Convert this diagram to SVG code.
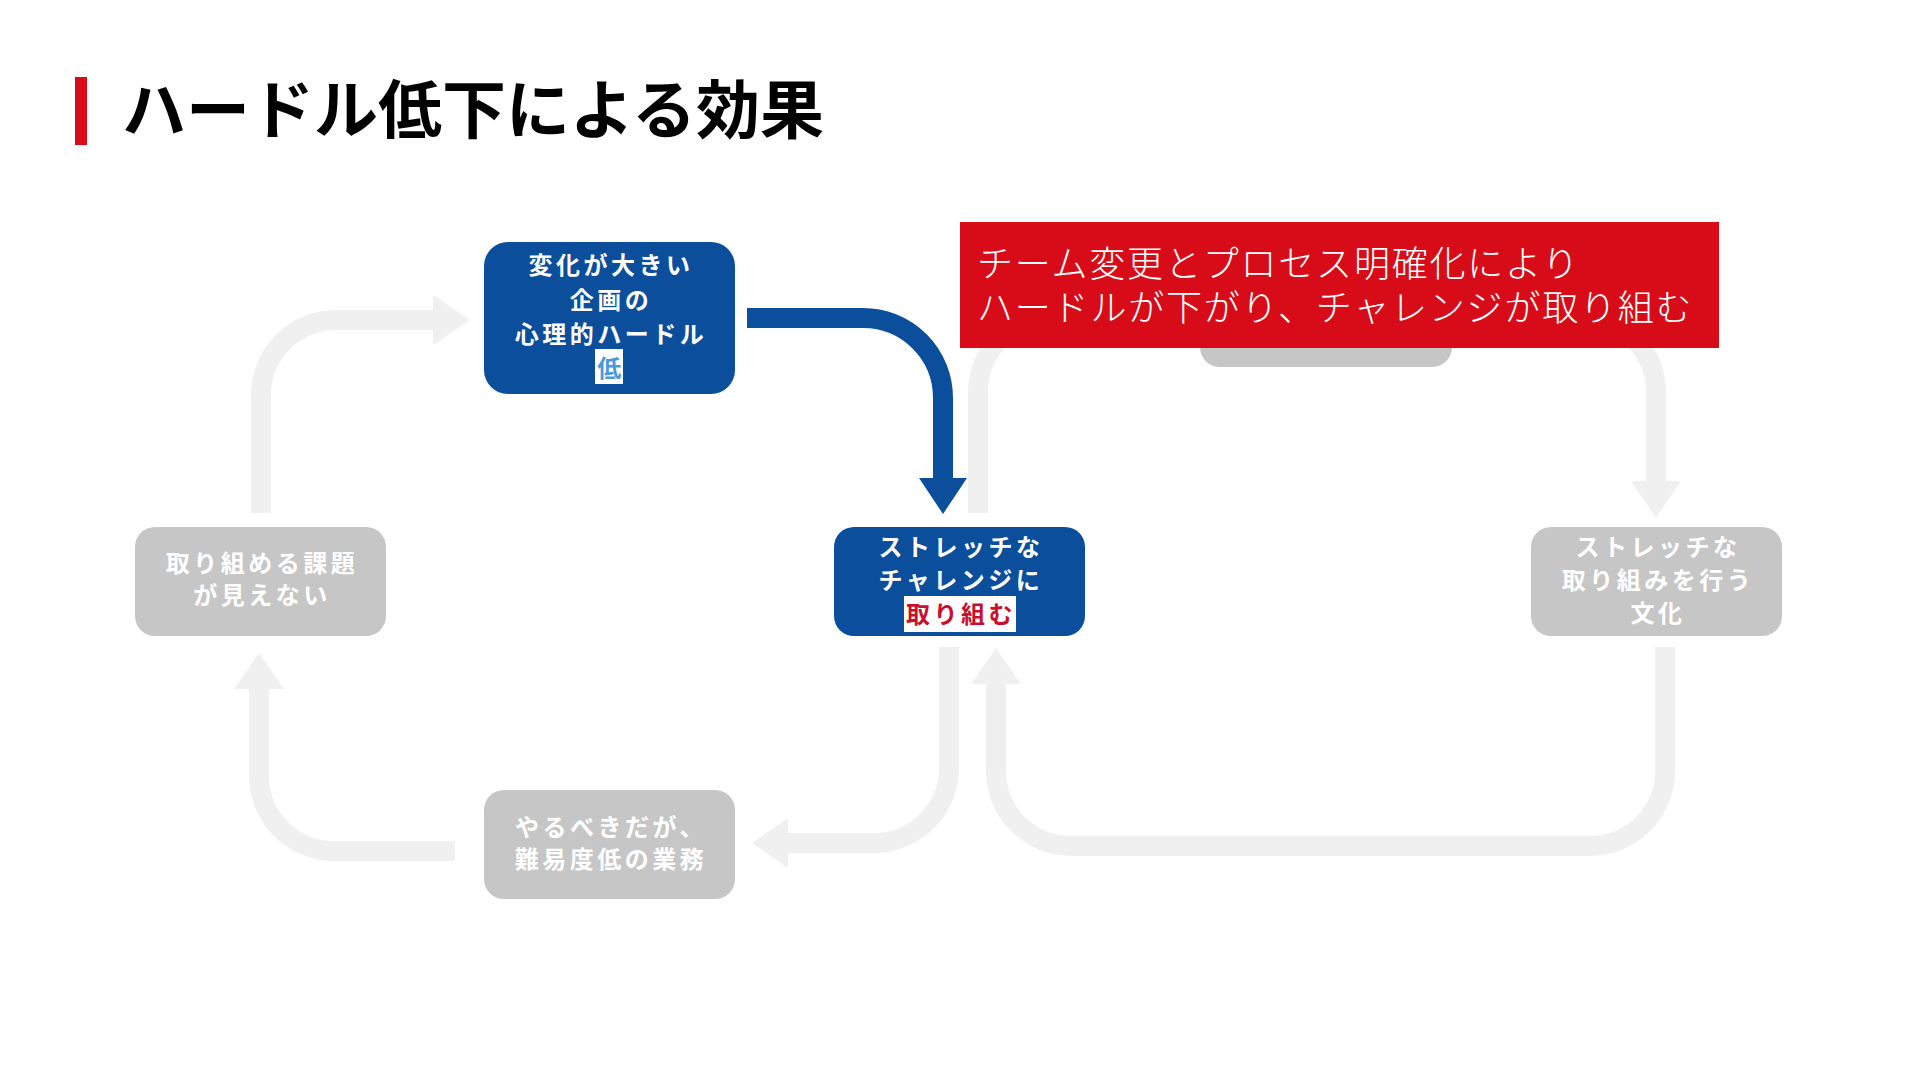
<svg xmlns="http://www.w3.org/2000/svg" width="1920" height="1080" viewBox="0 0 1920 1080">
<style>
.title{font-family:"Noto Sans CJK JP","Noto Sans",sans-serif;font-weight:700;font-size:64px;letter-spacing:0px;fill:#000}
.nt{font-family:"Noto Sans CJK JP","Noto Sans",sans-serif;font-weight:700;font-size:24px;letter-spacing:3.5px;fill:#fff;text-anchor:middle}
.blue{fill:#0b4e9b}
.gray{fill:#c6c6c6}
.line{fill:none;stroke:#f0f0f0;stroke-width:20}
.head{fill:#f0f0f0}
.bline{fill:none;stroke:#0b4e9b;stroke-width:20}
.call{font-family:"Noto Sans CJK JP","Noto Sans",sans-serif;font-weight:300;font-size:36px;letter-spacing:1.8px;fill:#fff}
</style>
<rect width="1920" height="1080" fill="#fff"/>
<g id="title">
<rect x="75" y="77" width="12" height="68" fill="#d80c18"/>
<text class="title" x="122" y="133">ハードル低下による効果</text>
</g>
<g id="connectors">
<path class="line" d="M261 513 V395 A75 75 0 0 1 336 320 H434"/>
<polygon class="head" points="433,295 470,320 433,345"/>
<path class="line" d="M978 513 V392 A75 75 0 0 1 1053 317 H1165"/>
<polygon class="head" points="1164,292 1200,317 1164,342"/>
<path class="line" d="M1452 317 H1581 A75 75 0 0 1 1656 392 V482"/>
<polygon class="head" points="1631,481 1681,481 1656,518"/>
<path class="line" d="M1665 647 V771 A75 75 0 0 1 1590 846 H1071 A75 75 0 0 1 996 771 V683"/>
<polygon class="head" points="971,684 1021,684 996,648"/>
<path class="line" d="M949 647 V768 A75 75 0 0 1 874 843 H787"/>
<polygon class="head" points="788,818 788,868 752,843"/>
<path class="line" d="M455 851 H334 A75 75 0 0 1 259 776 V688"/>
<polygon class="head" points="234,689 284,689 259,653"/>
<path class="bline" d="M747 318 H863 A80 80 0 0 1 943 398 V479"/>
<polygon class="blue" points="919,478 967,478 943,514"/>
</g>
<g id="node-top">
<rect class="blue" x="484" y="242" width="251" height="152" rx="24"/>
<text class="nt" x="611" y="274">変化が大きい</text>
<text class="nt" x="611" y="309">企画の</text>
<text class="nt" x="611" y="343">心理的ハードル</text>
<rect x="595" y="349" width="28" height="35" fill="#fff"/>
<text class="nt" x="611" y="377" style="fill:#4a9ad8">低</text>
</g>
<g id="node-center">
<rect class="blue" x="834" y="527" width="251" height="109" rx="20"/>
<text class="nt" x="961" y="556">ストレッチな</text>
<text class="nt" x="961" y="589">チャレンジに</text>
<rect x="904" y="596" width="112" height="36" fill="#fff"/>
<text class="nt" x="961" y="623" style="fill:#c8102e">取り組む</text>
</g>
<g id="node-left">
<rect class="gray" x="135" y="527" width="251" height="109" rx="20"/>
<text class="nt" x="262" y="572">取り組める課題</text>
<text class="nt" x="262" y="604">が見えない</text>
</g>
<g id="node-bottom">
<rect class="gray" x="484" y="790" width="251" height="109" rx="20"/>
<text class="nt" x="611" y="836">やるべきだが、</text>
<text class="nt" x="611" y="868">難易度低の業務</text>
</g>
<g id="node-right">
<rect class="gray" x="1531" y="527" width="251" height="109" rx="20"/>
<text class="nt" x="1658" y="556">ストレッチな</text>
<text class="nt" x="1658" y="589">取り組みを行う</text>
<text class="nt" x="1658" y="622">文化</text>
</g>
<g id="node-hidden">
<rect class="gray" x="1200" y="258" width="252" height="109" rx="20"/>
</g>
<g id="callout">
<rect x="960" y="222" width="759" height="126" fill="#d80c18"/>
<text class="call" x="977" y="277">チーム変更とプロセス明確化により</text>
<text class="call" x="977" y="321">ハードルが下がり、チャレンジが取り組む</text>
</g>
</svg>
